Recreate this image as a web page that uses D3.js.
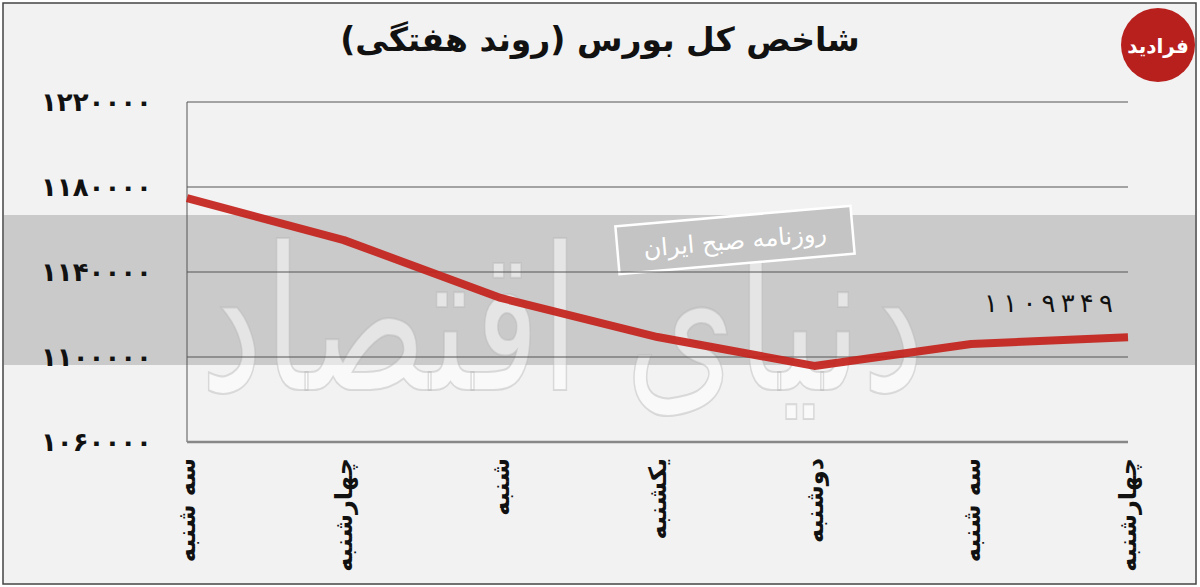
<!DOCTYPE html>
<html><head><meta charset="utf-8">
<script src="https://cdn.jsdelivr.net/npm/d3@7/dist/d3.min.js"></script>
<style>
html,body{margin:0;padding:0;background:#fff;}
svg{display:block;}
text{font-family:"DejaVu Sans",sans-serif;}
</style></head><body>
<svg id="c" width="1200" height="587"></svg>
<script>
const categories = ["سه شنبه","چهارشنبه","شنبه","یکشنبه","دوشنبه","سه شنبه","چهارشنبه"];
const values = [1174800, 1155000, 1127800, 1109400, 1095800, 1106100, 1109349];
const yTicks = [1060000, 1100000, 1140000, 1180000, 1220000];
const yTickLabels = ["۱۰۶۰۰۰۰","۱۱۰۰۰۰۰","۱۱۴۰۰۰۰","۱۱۸۰۰۰۰","۱۲۲۰۰۰۰"];
const lastLabel = "۱۱۰۹۳۴۹";
const title = "شاخص کل بورس (روند هفتگی)";

const svg = d3.select("#c");
const W = 1200, H = 587;
const m = {left:187, right:1128, top:102, bottom:442};

// background + frame
svg.append("rect").attr("x",3).attr("y",3).attr("width",W-7).attr("height",H-6)
  .attr("fill","#f2f2f2").attr("stroke","#444").attr("stroke-width",1.5);
// gray band
svg.append("rect").attr("x",4).attr("y",215).attr("width",W-9).attr("height",150).attr("fill","#cacaca");

const x = d3.scalePoint().domain(d3.range(categories.length)).range([m.left, m.right]);
const y = d3.scaleLinear().domain([1060000,1220000]).range([m.bottom, m.top]);

// watermark
const wm = svg.append("g").attr("pointer-events","none");
wm.append("g").attr("transform","translate(200,390) scale(0.71,1)")
  .append("text").attr("x",0).attr("y",0)
  .attr("font-size",200)
  .attr("fill","#ffffff").attr("fill-opacity",0.5).attr("stroke","#b5b5b5").attr("stroke-opacity",0.45).attr("stroke-width",2)
  .text("دنیای اقتصاد");
const stamp = wm.append("g").attr("transform","translate(735,240) rotate(-5)");
stamp.append("rect").attr("x",-118).attr("y",-24).attr("width",236).attr("height",48)
  .attr("fill","#c4c4c4").attr("stroke","#fff").attr("stroke-width",2.5);
stamp.append("text").attr("x",0).attr("y",9).attr("text-anchor","middle").attr("font-size",24)
  .attr("fill","#fff").text("روزنامه صبح ایران");

// gridlines
svg.append("g").selectAll("line").data(yTicks.slice(1)).join("line")
  .attr("x1",m.left).attr("x2",m.right).attr("y1",d=>y(d)).attr("y2",d=>y(d))
  .attr("stroke","#555").attr("stroke-width",1);
// axes lines
svg.append("line").attr("x1",m.left).attr("x2",m.left).attr("y1",m.top).attr("y2",m.bottom).attr("stroke","#555").attr("stroke-width",1);
svg.append("line").attr("x1",m.left).attr("x2",m.right).attr("y1",m.bottom).attr("y2",m.bottom).attr("stroke","#888").attr("stroke-width",2.5);

// y labels
svg.append("g").selectAll("text").data(yTicks).join("text")
  .attr("x",152).attr("y",d=>y(d)).attr("dy","0.35em").attr("text-anchor","end")
  .attr("font-size",26).attr("font-weight","bold").attr("fill","#111")
  .text((d,i)=>yTickLabels[i]);

// x labels
svg.append("g").selectAll("text").data(categories).join("text")
  .attr("transform",(d,i)=>`translate(${x(i)},458) rotate(-90)`)
  .attr("dy","0.35em").attr("text-anchor","end")
  .attr("font-size",24).attr("font-weight","bold").attr("fill","#111")
  .text(d=>d);

// line
const line = d3.line().x((d,i)=>x(i)).y(d=>y(d));
svg.append("path").datum(values).attr("d",line).attr("fill","none")
  .attr("stroke","#c4221b").attr("stroke-width",8).attr("stroke-opacity",0.92)
  .attr("stroke-linejoin","round").attr("stroke-linecap","butt");

// last value label
svg.append("text").attr("x",x(values.length-1)-15).attr("y",y(values[values.length-1])-25)
  .attr("text-anchor","end").attr("font-size",26).attr("fill","#111")
  .text(lastLabel.split("").join("\u2009"));

// title
svg.append("text").attr("x",600).attr("y",51).attr("text-anchor","middle")
  .attr("font-size",33).attr("font-weight","bold").attr("fill","#111").text(title);

// logo
const lg = svg.append("g").attr("transform","translate(1158,45)");
lg.append("circle").attr("r",37).attr("fill","#b8201e");
lg.append("text").attr("y",8).attr("text-anchor","middle").attr("font-size",20).attr("font-weight","bold").attr("fill","#fff").text("فرادید");
</script>
</body></html>
